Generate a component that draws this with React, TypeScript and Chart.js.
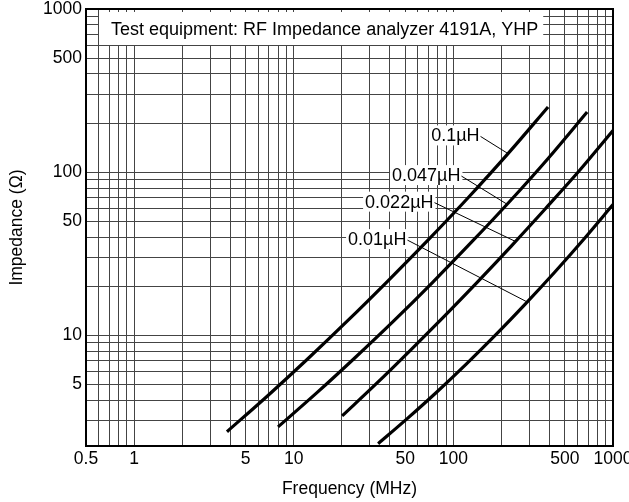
import React, { useEffect, useRef } from 'react';
import { Chart, registerables } from 'chart.js';

Chart.register(...registerables);

// ---- Data ----
const freq_01uH = [3.82, 6.82, 12.17, 21.7, 38.7, 69.1, 123.3, 220, 392];
const imp_01uH = [2.57, 4.24, 7.14, 12.26, 21.45, 38.2, 69.5, 130, 251];

const freq_0047uH = [7.98, 13.93, 24.3, 42.5, 74.2, 129.4, 226, 394.7, 688.6];
const imp_0047uH = [2.75, 4.44, 7.32, 12.31, 21.15, 37.1, 66.4, 122.3, 233.7];

const freq_0022uH = [20.1, 32.8, 53.4, 87.0, 141.9, 231.4, 377, 614.6, 1000];
const imp_0022uH = [3.21, 5.04, 8.04, 13.0, 21.3, 35.4, 59.7, 102, 180];

const freq_001uH = [33.8, 51.6, 78.8, 120.4, 184, 281, 429.5, 656, 1000];
const imp_001uH = [2.17, 3.1, 4.5, 6.67, 10.07, 15.5, 24.3, 38.85, 63.3];

const seriesNames = ['0.1\u00b5H', '0.047\u00b5H', '0.022\u00b5H', '0.01\u00b5H'];

// label anchors (data coords) and leader target frequency on each curve
const labelFreq = [72.6, 41.3, 28.0, 21.9];
const labelImp = [168, 96, 66, 38.9];
const leaderFreq = [220, 217, 245, 290];

const xTickLabels = [0.5, 1, 5, 10, 50, 100, 500, 1000];
const yTickLabels = [5, 10, 50, 100, 500, 1000];

const gridMantissas = [1, 2, 3, 4, 5, 6, 7, 8, 9];
const xDecades = [0.1, 1, 10, 100, 1000];
const yDecades = [1, 10, 100, 1000];

const X_MIN = 0.5;
const X_MAX = 1000;
const Y_MIN = 2.1;
const Y_MAX = 1000;

const TITLE_TEXT = 'Test equipment: RF Impedance analyzer 4191A, YHP';
const FONT = '"Liberation Sans", Arial, Helvetica, sans-serif';

function gridValues(decades: number[], min: number, max: number): number[] {
  const out: number[] = [];
  decades.forEach((d) =>
    gridMantissas.forEach((m) => {
      const v = Number((m * d).toPrecision(6));
      if (v >= min - 1e-9 && v <= max + 1e-9 && !out.includes(v)) out.push(v);
    })
  );
  return out.sort((a, b) => a - b);
}

const xGrid = gridValues(xDecades, X_MIN, X_MAX);
const yGrid = gridValues(yDecades, Y_MIN, Y_MAX);

function matchLabel(list: number[], v: number): string {
  const hit = list.find((l) => Math.abs(l - v) / l < 1e-6);
  return hit === undefined ? '' : String(hit);
}

function interpLog(fs: number[], zs: number[], f: number): number {
  for (let i = 0; i < fs.length - 1; i++) {
    if (f >= fs[i] && f <= fs[i + 1]) {
      const t = (Math.log10(f) - Math.log10(fs[i])) / (Math.log10(fs[i + 1]) - Math.log10(fs[i]));
      return Math.pow(10, Math.log10(zs[i]) + t * (Math.log10(zs[i + 1]) - Math.log10(zs[i])));
    }
  }
  return zs[zs.length - 1];
}

const allFreq = [freq_01uH, freq_0047uH, freq_0022uH, freq_001uH];
const allImp = [imp_01uH, imp_0047uH, imp_0022uH, imp_001uH];

const overlayPlugin = {
  id: 'overlay',
  afterDraw(chart: any) {
    const { ctx, chartArea } = chart;
    const xs = chart.scales.x;
    const ys = chart.scales.y;
    ctx.save();

    // title box
    ctx.font = `18px ${FONT}`;
    const tw = ctx.measureText(TITLE_TEXT).width;
    const tx = chartArea.left + 25;
    const ty = chartArea.top + 26;
    ctx.fillStyle = '#fff';
    ctx.fillRect(tx - 12, chartArea.top + 3, tw + 17, 33);
    ctx.fillStyle = '#000';
    ctx.textBaseline = 'alphabetic';
    ctx.textAlign = 'left';
    ctx.fillText(TITLE_TEXT, tx, ty);

    // curve labels with leader lines
    ctx.font = `18px ${FONT}`;
    ctx.textBaseline = 'middle';
    seriesNames.forEach((name, i) => {
      const px = xs.getPixelForValue(labelFreq[i]);
      const py = ys.getPixelForValue(labelImp[i]);
      const w = ctx.measureText(name).width;
      ctx.fillStyle = '#fff';
      ctx.fillRect(px - 2, py - 10, w + 4, 20);
      ctx.fillStyle = '#000';
      ctx.fillText(name, px, py + 1);
      const ex = xs.getPixelForValue(leaderFreq[i]);
      const ey = ys.getPixelForValue(interpLog(allFreq[i], allImp[i], leaderFreq[i]));
      ctx.beginPath();
      ctx.strokeStyle = '#000';
      ctx.lineWidth = 1;
      ctx.moveTo(px + w + 1, py + 1);
      ctx.lineTo(ex, ey);
      ctx.stroke();
    });

    // frame
    ctx.strokeStyle = '#000';
    ctx.lineWidth = 2;
    ctx.strokeRect(chartArea.left, chartArea.top, chartArea.right - chartArea.left, chartArea.bottom - chartArea.top);
    ctx.restore();
  },
};

export default function App() {
  const canvasRef = useRef<HTMLCanvasElement | null>(null);

  useEffect(() => {
    if (!canvasRef.current) return;
    const tickFont = { family: FONT, size: 17.5 };
    const chart = new Chart(canvasRef.current, {
      type: 'line',
      data: {
        datasets: seriesNames.map((name, i) => ({
          label: name,
          data: allFreq[i].map((f, j) => ({ x: f, y: allImp[i][j] })),
          borderColor: '#000',
          backgroundColor: '#000',
          borderWidth: 3.2,
          pointRadius: 0,
          fill: false,
          cubicInterpolationMode: 'monotone',
          borderCapStyle: 'butt',
        })),
      },
      options: {
        responsive: false,
        animation: false,
        layout: { padding: { top: 9, right: 16, bottom: 0, left: 0 } },
        plugins: { legend: { display: false }, tooltip: { enabled: false } },
        scales: {
          x: {
            type: 'logarithmic',
            min: X_MIN,
            max: X_MAX,
            afterBuildTicks: (s: any) => {
              s.ticks = xGrid.map((v) => ({ value: v }));
            },
            afterFit: (s: any) => {
              s.height = 56;
              s.paddingLeft = 0;
              s.paddingRight = 0;
            },
            grid: { color: '#444', lineWidth: 1, drawTicks: false },
            border: { display: true, color: '#000', width: 2 },
            ticks: {
              autoSkip: false,
              maxRotation: 0,
              minRotation: 0,
              padding: 3,
              color: '#000',
              font: tickFont,
              callback: (v: any) => matchLabel(xTickLabels, Number(v)),
            },
            title: {
              display: true,
              text: 'Frequency (MHz)',
              color: '#000',
              font: tickFont,
              padding: { top: 0, bottom: 2 },
            },
          },
          y: {
            type: 'logarithmic',
            min: Y_MIN,
            max: Y_MAX,
            afterBuildTicks: (s: any) => {
              s.ticks = yGrid.map((v) => ({ value: v }));
            },
            afterFit: (s: any) => {
              s.width = 86;
              s.paddingTop = 0;
              s.paddingBottom = 0;
            },
            grid: { color: '#444', lineWidth: 1, drawTicks: false },
            border: { display: true, color: '#000', width: 2 },
            ticks: {
              autoSkip: false,
              padding: 4,
              color: '#000',
              font: tickFont,
              callback: (v: any) => matchLabel(yTickLabels, Number(v)),
            },
            title: {
              display: true,
              text: 'Impedance (\u03a9)',
              color: '#000',
              font: tickFont,
              padding: { top: 7, bottom: 0 },
            },
          },
        },
      } as any,
      plugins: [overlayPlugin],
    });
    return () => chart.destroy();
  }, []);

  return (
    <div style={{ position: 'fixed', left: 0, top: 0, width: 629, height: 502, background: '#fff' }}>
      <canvas ref={canvasRef} width={629} height={502} style={{ display: 'block' }} />
    </div>
  );
}
